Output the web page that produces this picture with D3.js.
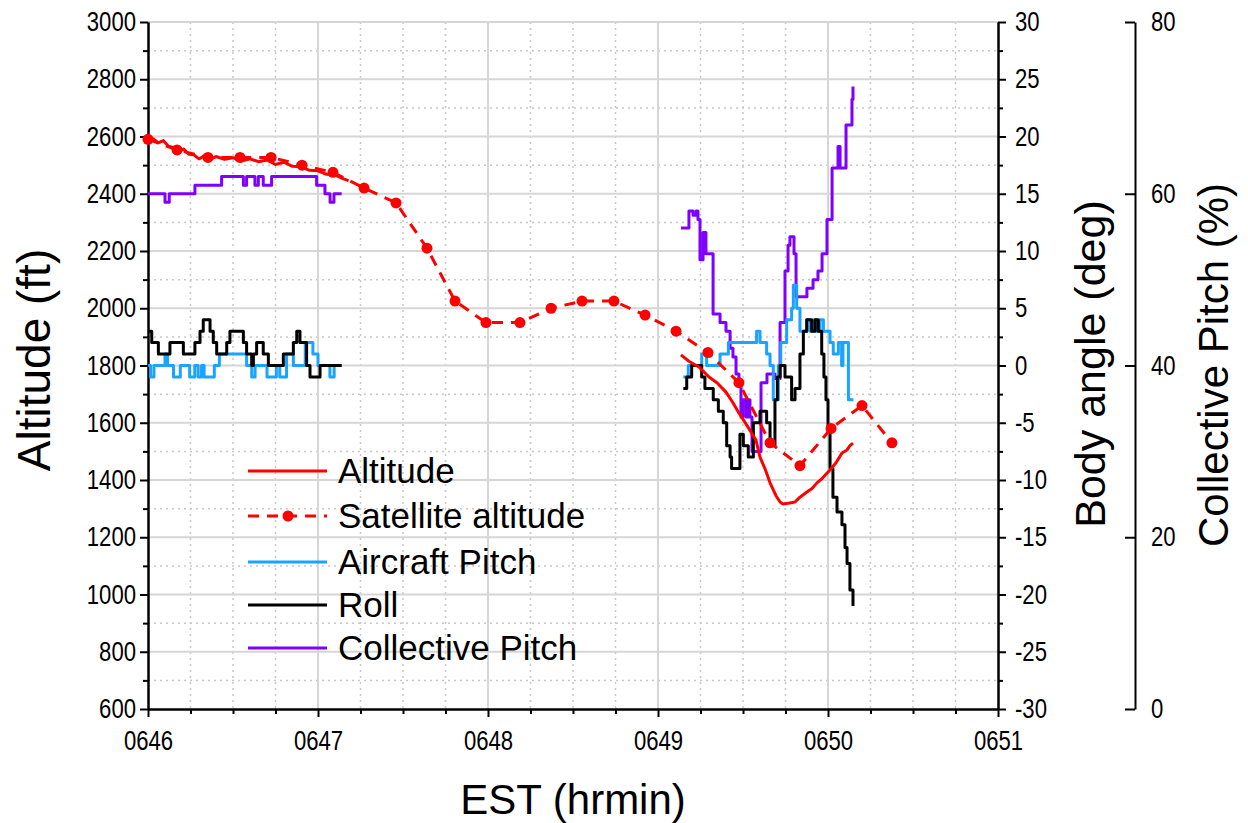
<!DOCTYPE html>
<html>
<head>
<meta charset="utf-8">
<script src="https://cdn.jsdelivr.net/npm/d3@7"></script>
<style>
body { margin: 0; background: #fff; }
text { font-family: "Liberation Sans", Arial, sans-serif; fill: #000; }
</style>
</head>
<body>
<div id="chart"></div>
<script>
// time axis is hhmm as a number, minutes as decimals (646.5 = 06:46:30)
var xTicks = [646, 647, 648, 649, 650, 651];
var altTicks = [600, 800, 1000, 1200, 1400, 1600, 1800, 2000, 2200, 2400, 2600, 2800, 3000];
var angTicks = [-30, -25, -20, -15, -10, -5, 0, 5, 10, 15, 20, 25, 30];
var colTicks = [0, 20, 40, 60, 80];

// satellite altitude (ft)
var satTime = [646.0, 646.171, 646.353, 646.541, 646.724, 646.906, 647.088, 647.271, 647.459, 647.641,
    647.806, 647.988, 648.188, 648.371, 648.553, 648.741, 648.924, 649.106, 649.294, 649.476,
    649.659, 649.835, 650.018, 650.2, 650.376];
var satAlt = [2590, 2553, 2527, 2527, 2527, 2500, 2475, 2420, 2368, 2210,
    2025, 1950, 1950, 2000, 2025, 2025, 1976, 1920, 1845, 1740,
    1530, 1450, 1580, 1660, 1530];

// recorded altitude (ft), two pieces
var altTime1 = [646.0, 646.03, 646.06, 646.09, 646.12, 646.15, 646.18, 646.21, 646.24, 646.27,
    646.3, 646.33, 646.36, 646.4, 646.45, 646.5, 646.55, 646.6, 646.65, 646.7,
    646.75, 646.8, 646.85, 646.9, 646.95, 647.0, 647.05, 647.1, 647.15, 647.18];
var alt1 = [2600, 2592, 2578, 2586, 2566, 2562, 2548, 2556, 2538, 2536,
    2522, 2532, 2518, 2530, 2520, 2526, 2514, 2522, 2512, 2518,
    2502, 2510, 2496, 2494, 2482, 2480, 2468, 2466, 2452, 2446];
var altTime2 = [649.135, 649.182, 649.241, 649.3, 649.347, 649.4, 649.441, 649.476, 649.524, 649.576,
    649.6, 649.629, 649.659, 649.694, 649.718, 649.735, 649.776, 649.806, 649.835, 649.876,
    649.906, 649.935, 649.965, 649.988, 650.012, 650.047, 650.082, 650.112, 650.129, 650.147];
var alt2 = [1837, 1815, 1795, 1760, 1740, 1707, 1670, 1634, 1590, 1540,
    1480, 1440, 1390, 1345, 1323, 1316, 1320, 1323, 1340, 1358,
    1370, 1390, 1405, 1420, 1435, 1460, 1494, 1505, 1520, 1529];

// aircraft pitch (deg)
var pitchTime1 = [646.0, 646.015, 646.035, 646.1, 646.115, 646.15, 646.19, 646.245, 646.275, 646.295,
    646.315, 646.33, 646.39, 646.42, 646.58, 646.61, 646.63, 646.7, 646.755, 646.775,
    646.815, 646.855, 646.925, 646.97, 647.0, 647.07, 647.095, 647.14];
var pitch1 = [0, -1, 0, 1, 0, -1, 0, -1, 0, -1,
    0, -1, 0, 1, 0, -1, 0, -1, 0, -1,
    1, 0, 2, 1, 0, -1, 0, 0];
var pitchTime2 = [649.149, 649.178, 649.257, 649.286, 649.365, 649.414, 649.58, 649.6, 649.639, 649.659,
    649.678, 649.708, 649.722, 649.757, 649.786, 649.796, 649.816, 649.835, 649.875, 649.894,
    649.914, 649.933, 649.953, 649.973, 650.012, 650.031, 650.061, 650.08, 650.088, 650.12, 650.149];
var pitch2 = [-1, 0, 1, 0, 1, 2, 3, 2, 1, 0,
    -3, 0, 2, 4, 5, 7, 5, 3, 4, 3,
    4, 3, 4, 3, 2, 1, 2, 0, 2, -3, -3];

// roll (deg)
var rollTime1 = [646.0, 646.022, 646.061, 646.129, 646.208, 646.276, 646.306, 646.325, 646.365, 646.384,
    646.404, 646.463, 646.482, 646.561, 646.58, 646.61, 646.62, 646.639, 646.678, 646.708,
    646.796, 646.855, 646.875, 646.894, 646.933, 646.953, 647.012, 647.139];
var roll1 = [3, 2, 1, 2, 1, 2, 3, 4, 3, 2,
    1, 2, 3, 2, 1, 0, 1, 2, 1, 0,
    1, 2, 3, 2, 0, -1, 0, 0];
var rollTime2 = [649.149, 649.169, 649.198, 649.257, 649.276, 649.325, 649.355, 649.384, 649.404, 649.424,
    649.433, 649.482, 649.502, 649.531, 649.561, 649.6, 649.639, 649.659, 649.688, 649.702,
    649.718, 649.747, 649.786, 649.806, 649.835, 649.855, 649.875, 649.904, 649.924, 649.943,
    649.963, 649.976, 649.988, 650.0, 650.012, 650.029, 650.053, 650.082, 650.1, 650.112,
    650.129, 650.147];
var roll2 = [-2, -1, 0, -1, -2, -3, -4, -5, -7, -8,
    -9, -6, -7, -8, -5, -4, -5, -7, -3, -1,
    0, -1, -3, -2, 1, 3, 4, 3, 4, 3,
    1, -1, -3, -5.6, -9, -11.5, -12.8, -13.9, -15.9, -17.3,
    -19.6, -21];

// collective pitch (%)
var colTime1 = [646.0, 646.1, 646.125, 646.276, 646.433, 646.561, 646.58, 646.629, 646.649, 646.678,
    646.727, 646.992, 647.041, 647.071, 647.094, 647.139];
var col1 = [60, 59, 60, 61, 62, 61, 62, 61, 62, 61,
    62, 61, 60, 59, 60, 60];
var colTime2 = [649.135, 649.182, 649.206, 649.224, 649.235, 649.247, 649.265, 649.282, 649.324, 649.341,
    649.365, 649.4, 649.424, 649.441, 649.459, 649.476, 649.488, 649.5, 649.518, 649.529,
    649.541, 649.553, 649.6, 649.606, 649.641, 649.688, 649.718, 649.747, 649.765, 649.776,
    649.794, 649.8, 649.812, 649.835, 649.876, 649.912, 649.941, 649.965, 649.994, 650.024,
    650.047, 650.059, 650.071, 650.1, 650.106, 650.129, 650.141, 650.147];
var col2 = [56, 58, 57.5, 58, 57, 52.3, 55.5, 53, 46, 46,
    45, 44, 42, 41, 39, 38, 34, 36, 34, 36,
    34, 30, 30, 38, 39, 38.5, 45, 51, 54, 55,
    55, 53, 48, 48, 49, 50, 51, 53, 57, 63,
    63, 65.5, 63, 63, 68, 68, 71, 72.5];

var legendNames = ['Altitude', 'Satellite altitude', 'Aircraft Pitch', 'Roll', 'Collective Pitch'];
var legendColors = ['#ff0000', '#ff0000', '#1aa3ff', '#000000', '#8000ff'];

function drawChart() {
    var W = 1248, H = 823;
    var mLeft = 148, mRight = 998, mTop = 22, mBottom = 709;
    var squeeze = 0.82; // tick labels in the original are narrow

    var svg = d3.select('#chart').append('svg').attr('width', W).attr('height', H);

    var x = d3.scaleLinear().domain([646, 651]).range([mLeft, mRight]);
    var yAlt = d3.scaleLinear().domain([600, 3000]).range([mBottom, mTop]);
    var yAng = d3.scaleLinear().domain([-30, 30]).range([mBottom, mTop]);
    var yCol = d3.scaleLinear().domain([0, 80]).range([mBottom, mTop]);

    // grid
    var grid = svg.append('g');
    var xMinor = d3.range(646.25, 651, 0.25).filter(function (d) { return d % 1 != 0; });
    var yMinor = d3.range(700, 3000, 200);
    grid.selectAll('.vminor').data(xMinor).enter().append('line')
        .attr('x1', function (d) { return x(d); }).attr('x2', function (d) { return x(d); })
        .attr('y1', mTop).attr('y2', mBottom)
        .style('stroke', '#c8c8c8').style('stroke-width', 1.5).style('stroke-dasharray', '2,4');
    grid.selectAll('.hminor').data(yMinor).enter().append('line')
        .attr('x1', mLeft).attr('x2', mRight)
        .attr('y1', function (d) { return yAlt(d); }).attr('y2', function (d) { return yAlt(d); })
        .style('stroke', '#c8c8c8').style('stroke-width', 1.5).style('stroke-dasharray', '2,4');
    grid.selectAll('.vmajor').data(xTicks.slice(1, -1)).enter().append('line')
        .attr('x1', function (d) { return x(d); }).attr('x2', function (d) { return x(d); })
        .attr('y1', mTop).attr('y2', mBottom)
        .style('stroke', '#d6d6d6').style('stroke-width', 2);
    grid.selectAll('.hmajor').data(altTicks.slice(1)).enter().append('line')
        .attr('x1', mLeft).attr('x2', mRight)
        .attr('y1', function (d) { return yAlt(d); }).attr('y2', function (d) { return yAlt(d); })
        .style('stroke', '#d6d6d6').style('stroke-width', 2);

    // axes
    function styleAxis(g) {
        g.selectAll('path').style('stroke', '#000').style('stroke-width', 2);
        g.selectAll('line').style('stroke', '#000').style('stroke-width', 2);
        g.selectAll('text').style('font-size', '27px')
            .each(function () {
                var t = d3.select(this);
                var tx = +t.attr('x') || 0;
                t.attr('x', tx / squeeze).attr('transform', 'scale(' + squeeze + ',1)');
            });
    }
    var plain = function (d) { return String(d); };

    var gl = svg.append('g').attr('transform', 'translate(' + mLeft + ',0)')
        .call(d3.axisLeft(yAlt).tickValues(d3.range(700, 3000, 200)).tickSize(5).tickSizeOuter(0).tickFormat(''));
    styleAxis(gl);
    var gl2 = svg.append('g').attr('transform', 'translate(' + mLeft + ',0)')
        .call(d3.axisLeft(yAlt).tickValues(altTicks).tickSize(8).tickSizeOuter(0).tickPadding(4).tickFormat(plain));
    styleAxis(gl2);

    var gb = svg.append('g').attr('transform', 'translate(0,' + mBottom + ')')
        .call(d3.axisBottom(x).tickValues(xMinor).tickSize(5).tickSizeOuter(0).tickFormat(''));
    styleAxis(gb);
    var gb2 = svg.append('g').attr('transform', 'translate(0,' + mBottom + ')')
        .call(d3.axisBottom(x).tickValues(xTicks).tickSize(8).tickSizeOuter(0).tickPadding(14)
            .tickFormat(function (d) { return '0' + d; }));
    styleAxis(gb2);

    var gr = svg.append('g').attr('transform', 'translate(' + mRight + ',0)')
        .call(d3.axisRight(yAng).tickValues(d3.range(-27.5, 30, 5)).tickSize(5).tickSizeOuter(0).tickFormat(''));
    styleAxis(gr);
    var gr2 = svg.append('g').attr('transform', 'translate(' + mRight + ',0)')
        .call(d3.axisRight(yAng).tickValues(angTicks).tickSize(8).tickSizeOuter(0).tickPadding(9).tickFormat(plain));
    styleAxis(gr2);

    var colX = 1135;
    var gc = svg.append('g').attr('transform', 'translate(' + colX + ',0)')
        .call(d3.axisRight(yCol).tickValues(colTicks).tickSizeInner(-10).tickSizeOuter(0).tickPadding(16).tickFormat(plain));
    styleAxis(gc);

    // axis titles
    svg.append('text').attr('transform', 'translate(50,360) rotate(-90)')
        .attr('text-anchor', 'middle').style('font-size', '46px').text('Altitude (ft)');
    svg.append('text').attr('x', (mLeft + mRight) / 2).attr('y', 814)
        .attr('text-anchor', 'middle').style('font-size', '42px').text('EST (hrmin)');
    svg.append('text').attr('transform', 'translate(1105,364) rotate(-90)')
        .attr('text-anchor', 'middle').style('font-size', '43px').text('Body angle (deg)');
    svg.append('text').attr('transform', 'translate(1228,365) rotate(-90)')
        .attr('text-anchor', 'middle').style('font-size', '42px').text('Collective Pitch (%)');

    // series
    function drawLine(xs, ys, yScale, color, curve) {
        var pts = xs.map(function (t, i) { return [t, ys[i]]; });
        var line = d3.line()
            .x(function (d) { return x(d[0]); })
            .y(function (d) { return yScale(d[1]); })
            .curve(curve);
        return svg.append('path').datum(pts).attr('d', line)
            .style('fill', 'none').style('stroke', color).style('stroke-width', 3)
            .style('stroke-linejoin', 'round');
    }

    drawLine(colTime1, col1, yCol, legendColors[4], d3.curveStepAfter);
    drawLine(colTime2, col2, yCol, legendColors[4], d3.curveStepAfter);
    drawLine(pitchTime1, pitch1, yAng, legendColors[2], d3.curveStepAfter);
    drawLine(pitchTime2, pitch2, yAng, legendColors[2], d3.curveStepAfter);
    drawLine(rollTime1, roll1, yAng, legendColors[3], d3.curveStepAfter);
    drawLine(rollTime2, roll2, yAng, legendColors[3], d3.curveStepAfter);
    drawLine(altTime1, alt1, yAlt, legendColors[0], d3.curveLinear);
    drawLine(altTime2, alt2, yAlt, legendColors[0], d3.curveLinear);
    drawLine(satTime, satAlt, yAlt, legendColors[1], d3.curveLinear).style('stroke-dasharray', '11,8');

    svg.append('g').selectAll('circle').data(satTime).enter().append('circle')
        .attr('cx', function (d) { return x(d); })
        .attr('cy', function (d, i) { return yAlt(satAlt[i]); })
        .attr('r', 5.5)
        .style('fill', legendColors[1]);

    // legend
    var legend = svg.append('g');
    var rowY = [471, 516, 562, 605, 648];
    legendNames.forEach(function (name, i) {
        var row = legend.append('g').attr('transform', 'translate(0,' + rowY[i] + ')');
        var ln = row.append('line').attr('x1', 248).attr('x2', 327).attr('y1', 0).attr('y2', 0)
            .style('stroke', legendColors[i]).style('stroke-width', 3);
        if (i == 1) {
            ln.style('stroke-dasharray', '11,8');
            row.append('circle').attr('cx', 288).attr('cy', 0).attr('r', 5.5).style('fill', legendColors[i]);
        }
        row.append('text').attr('x', 338).attr('y', 12).style('font-size', '35px').text(name);
    });
}

drawChart();
</script>
</body>
</html>
